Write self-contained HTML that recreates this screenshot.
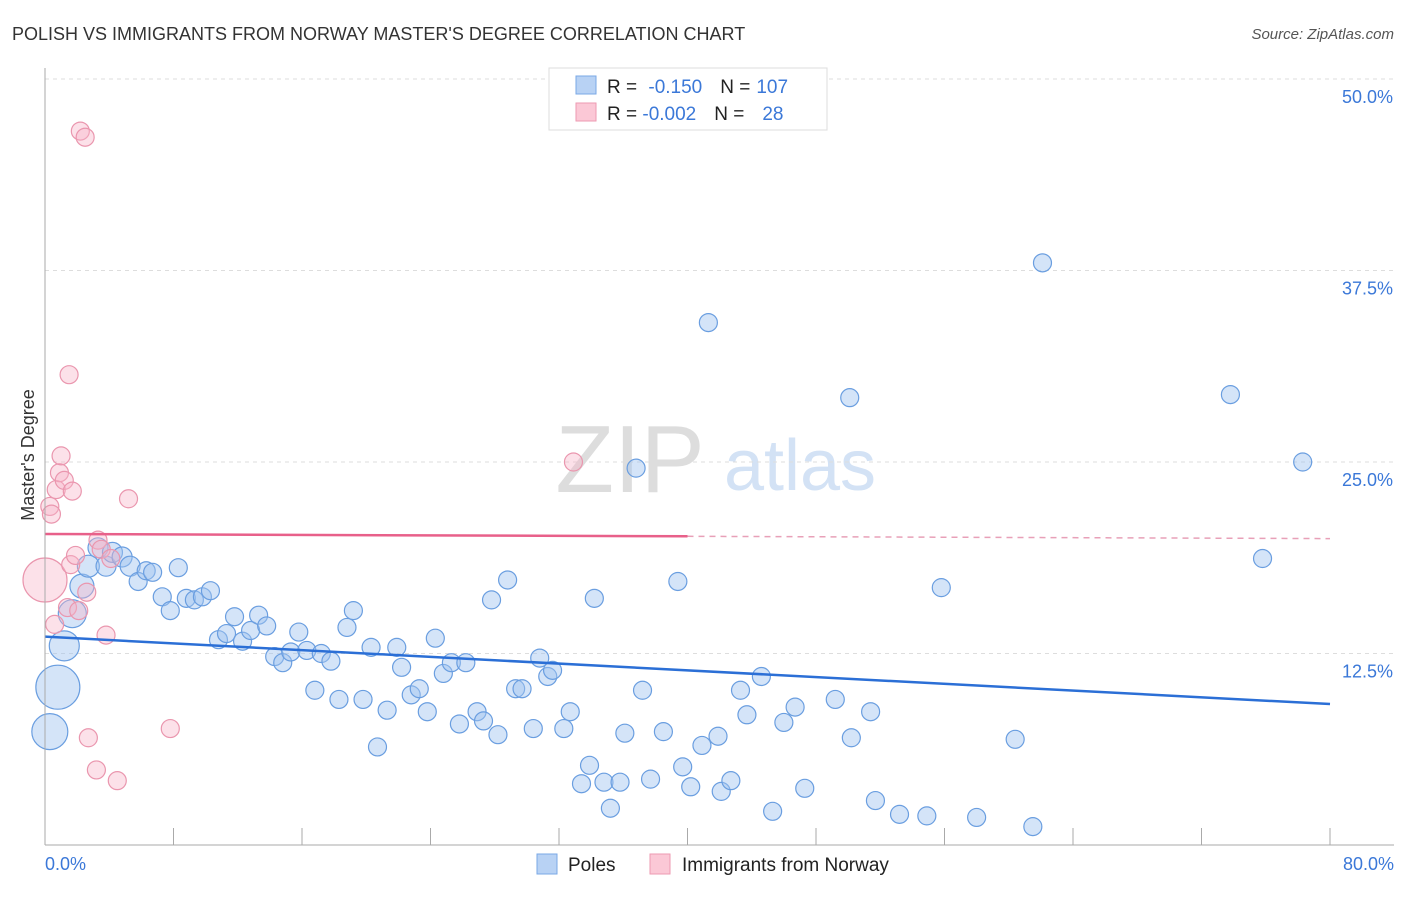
<!DOCTYPE html>
<html><head><meta charset="utf-8"><style>
body{margin:0;background:#fff;font-family:"Liberation Sans",sans-serif}
svg text{font-family:"Liberation Sans",sans-serif}
</style></head><body>
<svg id="c" width="1406" height="892" xmlns="http://www.w3.org/2000/svg">
<text x="12" y="40" font-size="18" fill="#333">POLISH VS IMMIGRANTS FROM NORWAY MASTER'S DEGREE CORRELATION CHART</text>
<text x="1394" y="39" font-size="15" fill="#555" text-anchor="end" font-style="italic">Source: ZipAtlas.com</text>
<text x="630" y="492" font-size="96" fill="#ddd" font-family="Liberation Serif" text-anchor="middle">ZIP</text>
<text x="800" y="490" font-size="72" fill="#d3e2f5" text-anchor="middle">atlas</text>
<text transform="translate(34,455) rotate(-90)" font-size="18" fill="#333" text-anchor="middle">Master's Degree</text>
<g id="grid"></g><g id="pts"></g><g id="lines"></g>
<line x1="45" y1="68" x2="45" y2="845" stroke="#aaa"/>
<line x1="45" y1="845" x2="1394" y2="845" stroke="#aaa"/>
<g id="ticks"></g>
<text x="45" y="870" font-size="18" fill="#3b78d8">0.0%</text>
<text x="1394" y="870" font-size="18" fill="#3b78d8" text-anchor="end">80.0%</text>
<g>
<rect x="549" y="68" width="278" height="62" fill="#fff" stroke="#ddd"/>
<rect x="576" y="76" width="20" height="18" fill="#b8d2f4" stroke="#7aa8e6"/>
<rect x="576" y="103" width="20" height="18" fill="#fbc8d6" stroke="#ee9ab2"/>
<text x="607" y="93" font-size="19" fill="#222">R = <tspan fill="#3b78d8" dx="6">-0.150</tspan><tspan dx="18" fill="#222">N =</tspan><tspan fill="#3b78d8" dx="6">107</tspan></text>
<text x="607" y="120" font-size="19" fill="#222">R = <tspan fill="#3b78d8">-0.002</tspan><tspan dx="18" fill="#222">N =</tspan><tspan fill="#3b78d8" dx="18">28</tspan></text>
</g>
<g>
<rect x="537" y="854" width="20" height="20" fill="#b8d2f4" stroke="#7aa8e6"/>
<text x="568" y="871" font-size="19" fill="#222">Poles</text>
<rect x="650" y="854" width="20" height="20" fill="#fbc8d6" stroke="#ee9ab2"/>
<text x="682" y="871" font-size="19" fill="#222">Immigrants from Norway</text>
</g>
</svg>
<script>
const yTicks=[12.5,25,37.5,50];
const yTickLabels=["12.5%","25.0%","37.5%","50.0%"];
const xTicks=[0,8,16,24,32,40,48,56,64,72,80];
const bx=[0.3,0.8,1.2,1.7,2.3,2.7,3.3,3.8,4.2,4.8,5.3,5.8,6.3,6.7,7.3,7.8,8.3,8.8,9.3,9.8,10.3,10.8,11.3,11.8,12.3,12.8,13.3,13.8,14.3,14.8,15.3,15.8,16.3,16.8,17.2,17.8,18.3,18.8,19.2,19.8,20.3,20.7,21.3,21.9,22.2,22.8,23.3,23.8,24.3,24.8,25.3,25.8,26.2,26.9,27.3,27.8,28.2,28.8,29.3,29.7,30.4,30.8,31.3,31.6,32.3,32.7,33.4,33.9,34.2,34.8,35.2,35.8,36.1,36.8,37.2,37.7,38.5,39.4,39.7,40.2,40.9,41.3,41.9,42.1,42.7,43.3,43.7,44.6,45.3,46.0,46.7,47.3,49.2,50.1,50.2,51.4,51.7,53.2,54.9,55.8,58.0,60.4,61.5,62.1,73.8,75.8,78.3];
const by=[7.4,10.3,13.0,15.1,16.9,18.2,19.4,18.2,19.1,18.8,18.2,17.2,17.9,17.8,16.2,15.3,18.1,16.1,16.0,16.2,16.6,13.4,13.8,14.9,13.3,14.0,15.0,14.3,12.3,11.9,12.6,13.9,12.7,10.1,12.5,12.0,9.5,14.2,15.3,9.5,12.9,6.4,8.8,12.9,11.6,9.8,10.2,8.7,13.5,11.2,11.9,7.9,11.9,8.7,8.1,16.0,7.2,17.3,10.2,10.2,7.6,12.2,11.0,11.4,7.6,8.7,4.0,5.2,16.1,4.1,2.4,4.1,7.3,24.6,10.1,4.3,7.4,17.2,5.1,3.8,6.5,34.1,7.1,3.5,4.2,10.1,8.5,11.0,2.2,8.0,9.0,3.7,9.5,29.2,7.0,8.7,2.9,2.0,1.9,16.8,1.8,6.9,1.2,38.0,29.4,18.7,25.0];
const bSize=[18,22,15,14,12,11,10,10,10,10,10];
const px=[0,0.3,0.4,0.6,0.7,0.9,1.0,1.2,1.5,1.6,1.7,1.9,1.4,2.1,2.2,2.5,2.6,2.7,3.2,3.3,3.5,3.8,4.1,4.5,5.2,7.8,32.9];
const py=[17.3,22.1,21.6,14.4,23.2,24.3,25.4,23.8,30.7,18.3,23.1,18.9,15.5,15.3,46.6,46.2,16.5,7.0,4.9,19.9,19.3,13.7,18.7,4.2,22.6,7.6,25.0];
const pSize=[22];
const blueTrend=[13.6,9.2];
const pinkTrend=[20.3,20.0];
const X=v=>45+v*(1285/80), Y=v=>845-v*15.32;
const NS="http://www.w3.org/2000/svg";
function mk(t,a,p){const e=document.createElementNS(NS,t);for(const k in a)e.setAttribute(k,a[k]);document.getElementById(p).appendChild(e);return e;}
yTicks.forEach((v,i)=>{
 const l=mk('line',{x1:45,x2:1394,y1:Y(v),y2:Y(v),stroke:'#ddd','stroke-dasharray':'4,4'},'grid');
 
 
 const t=mk('text',{x:1393,y:Y(v)+24,'font-size':18,fill:'#3b78d8','text-anchor':'end'},'grid');
 
 
 t.textContent=yTickLabels[i];
});
xTicks.forEach(v=>{
 const l=mk('line',{x1:X(v),x2:X(v),y1:828,y2:845,stroke:'#aaa'},'ticks');
 
 
});
bx.forEach((v,i)=>{
 const c=mk('circle',{cx:X(v),cy:Y(by[i]),r:bSize[i]||9,fill:'rgba(160,196,240,0.45)',stroke:'#6a9ee0','stroke-width':1.2},'pts');
 
 
});
px.forEach((v,i)=>{
 const c=mk('circle',{cx:X(v),cy:Y(py[i]),r:pSize[i]||9,fill:'rgba(248,180,200,0.4)',stroke:'#ea96ae','stroke-width':1.2},'pts');
 
 
});
const bl=mk('line',{x1:X(0),y1:Y(blueTrend[0]),x2:X(80),y2:Y(blueTrend[1]),stroke:'#2b6fd6','stroke-width':2.5},'lines');


const pm=pinkTrend[0]+(pinkTrend[1]-pinkTrend[0])*0.5;
const pl=mk('line',{x1:X(0),y1:Y(pinkTrend[0]),x2:X(40),y2:Y(pm),stroke:'#e8608a','stroke-width':2.5},'lines');


const pd=mk('line',{x1:X(40),y1:Y(pm),x2:X(80),y2:Y(pinkTrend[1]),stroke:'#e8a0b8','stroke-width':1.5,'stroke-dasharray':'6,5'},'lines');


</script>
</body></html>
